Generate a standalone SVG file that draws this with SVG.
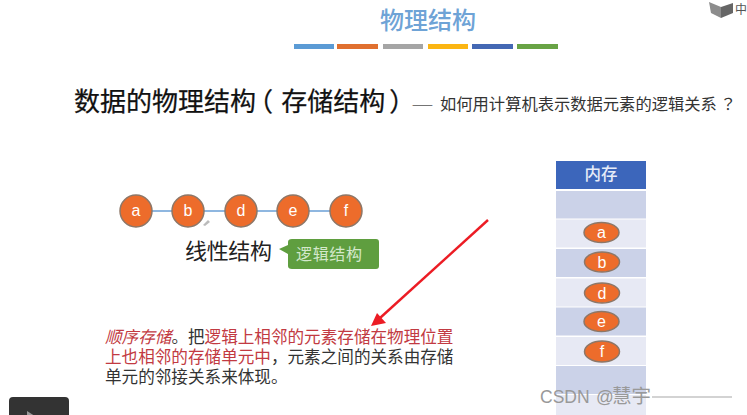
<svg xmlns="http://www.w3.org/2000/svg" width="747" height="415" viewBox="0 0 747 415">
<style>
text{font-family:"Liberation Sans","Noto Sans CJK SC",sans-serif}
.cjk{font-family:"Noto Sans CJK SC",sans-serif}
.n{fill:#ed6c2b;stroke:#8d7768;stroke-width:1.5}
.l{fill:#fff;font-size:16px;text-anchor:middle}
.m{fill:#ed6c2b;stroke:#8d7768;stroke-width:1.5}
.r1{fill:#cbd2e8}
.r2{fill:#e7e9f4}
.red{fill:#c23a42}
.blk{fill:#333}
</style>
<rect width="747" height="415" fill="#fff"/>
<g id="title">
<text x="380" y="29" class="cjk" font-size="24" font-weight="500" fill="#6ea3d6" textLength="96">物理结构</text>
<rect x="294" y="44" width="40" height="5" fill="#5b9bd5"/>
<rect x="337" y="44" width="41" height="5" fill="#e0702f"/>
<rect x="383" y="44" width="40" height="5" fill="#a5a5a5"/>
<rect x="428" y="44" width="40" height="5" fill="#fbb512"/>
<rect x="472" y="44" width="41" height="5" fill="#4468b4"/>
<rect x="517" y="44" width="41" height="5" fill="#68a345"/>
</g>
<g id="heading">
<text x="74" y="111" dx="0 0 0 0 0 0 0 -9 8 0 0 0 4" class="cjk" font-size="26" fill="#111" stroke="#111" stroke-width=".25">数据的物理结构（存储结构）</text>
<text x="412" y="109" class="cjk" font-size="12.5" letter-spacing="1.5" fill="#555" textLength="26">——</text>
<text x="440" y="110" class="cjk" font-size="16.3" fill="#333">如何用计算机表示数据元素的逻辑关系</text>
<text x="720" y="110" font-size="16.3" fill="#333" style="font-family:'Noto Sans CJK JP',sans-serif">？</text>
</g>
<g id="connectors">
<line x1="136" y1="211" x2="346" y2="211" stroke="#6a9fd6" stroke-width="1.6"/>
<line x1="488" y1="220" x2="380" y2="318" stroke="#ec1c24" stroke-width="2.4"/>
<path d="M371 326 L377 313 L386 323 Z" fill="#ec1c24"/>
</g>
<g id="node-a"><circle class="n" cx="136" cy="211" r="16"/><text class="l" x="136" y="216">a</text></g>
<g id="node-b"><circle class="n" cx="188" cy="211" r="16"/><text class="l" x="188" y="216">b</text></g>
<g id="node-d"><circle class="n" cx="241" cy="211" r="16"/><text class="l" x="241" y="216">d</text></g>
<g id="node-e"><circle class="n" cx="293" cy="211" r="16"/><text class="l" x="293" y="216">e</text></g>
<g id="node-f"><circle class="n" cx="346" cy="211" r="16"/><text class="l" x="346" y="216">f</text></g>
<path d="M203 225 L208 220 L210 222 L205 226 Z" fill="#bbb"/>
<g id="linear-label"><text x="185" y="259" class="cjk" font-size="22" fill="#222" textLength="87">线性结构</text></g>
<g id="callout">
<path d="M292 239 H376 Q379 239 379 242 V266 Q379 269 376 269 H292 Q288 269 288 266 V254 L279 249 L288 245 V242 Q288 239 292 239 Z" fill="#5f9e3f"/>
<text x="296" y="260" class="cjk" font-size="16" fill="#d4e8cb" textLength="66">逻辑结构</text>
</g>
<g id="memory">
<rect x="556" y="161" width="90" height="28" fill="#3c66bb"/>
<text x="601" y="180" class="cjk" font-size="16.5" font-weight="500" fill="#e6ecf8" text-anchor="middle">内存</text>
<rect class="r1" x="556" y="191" width="90" height="27.5"/>
<rect class="r2" x="556" y="219.5" width="90" height="28"/>
<rect class="r1" x="556" y="249" width="90" height="28"/>
<rect class="r2" x="556" y="278.5" width="90" height="28"/>
<rect class="r1" x="556" y="307.5" width="90" height="28"/>
<rect class="r2" x="556" y="337" width="90" height="28"/>
<rect class="r1" x="556" y="366" width="90" height="28"/>
<rect class="r2" x="556" y="395" width="90" height="20"/>
</g>
<g id="mem-a"><ellipse class="m" cx="601.5" cy="232.5" rx="17.5" ry="10"/><text class="l" x="601.5" y="238">a</text></g>
<g id="mem-b"><ellipse class="m" cx="602" cy="262" rx="17.5" ry="10"/><text class="l" x="602" y="267.5">b</text></g>
<g id="mem-d"><ellipse class="m" cx="602" cy="293" rx="17.5" ry="10"/><text class="l" x="602" y="298.5">d</text></g>
<g id="mem-e"><ellipse class="m" cx="601.5" cy="321.5" rx="17.5" ry="10"/><text class="l" x="601.5" y="327">e</text></g>
<g id="mem-f"><ellipse class="m" cx="602" cy="351.5" rx="17.5" ry="10.5"/><text class="l" x="602" y="357">f</text></g>
<g id="description">
<text x="105" y="343" class="cjk" font-size="16.6"><tspan class="red" font-style="italic">顺序存储</tspan><tspan class="blk">。把</tspan><tspan class="red">逻辑上相邻的元素存储在物理位置</tspan><tspan x="105" y="363" class="red">上也相邻的存储单元中</tspan><tspan class="blk">，元素之间的关系由存储</tspan><tspan x="105" y="383" class="blk">单元的邻接关系来体现。</tspan></text>
</g>
<g id="overlay">
<text x="540" y="403" font-size="17.5" fill="#999">CSDN<tspan x="596">@</tspan><tspan x="612" font-size="19.5">慧宇</tspan></text>
<line x1="652" y1="397" x2="732" y2="397" stroke="#c4c4c4" stroke-width="1.3"/>
<path d="M709 2 L721 7 L721 18 L711 13 Z" fill="#8c8c8c"/>
<path d="M721 7 L733 3 L733 13 L721 18 Z" fill="#666"/>
<text x="735" y="14" class="cjk" font-size="12" fill="#555">中</text>
<rect x="9" y="397" width="60" height="30" rx="4" fill="#333"/>
<path d="M27 411 L38 418 L27 418 Z" fill="#999"/>
</g>
</svg>
